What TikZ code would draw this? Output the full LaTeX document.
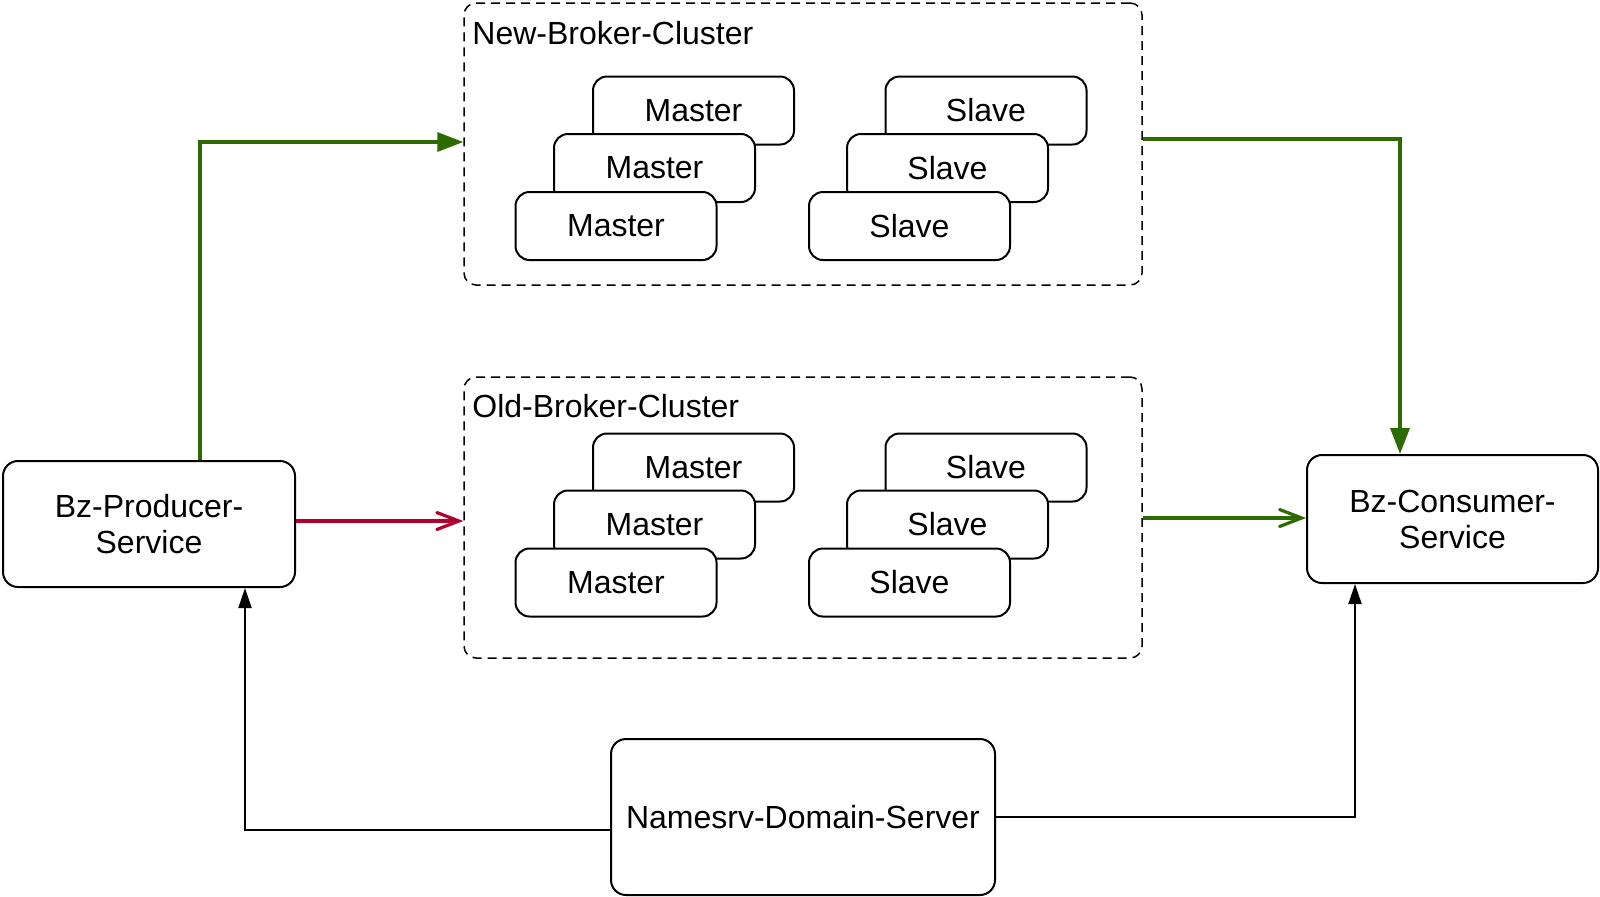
\documentclass[tikz,border=0pt]{standalone}
\usepackage{fontspec}
\setmainfont{Liberation Sans}
\usetikzlibrary{arrows.meta}
\definecolor{dgreen}{HTML}{2D6A00}
\definecolor{dred}{HTML}{B2002E}
\begin{document}
\begin{tikzpicture}[x=0.5pt,y=-0.5pt,
  lbl/.style={font=\fontsize{16}{18}\selectfont},
  box/.style={draw=black, line width=1pt, rounded corners=7.5pt, fill=white, lbl, align=center, inner sep=0pt},
  bbox/.style={box, minimum width=100.5pt, minimum height=34pt, rounded corners=7pt},
  cluster/.style={draw=black, line width=0.75pt, dash pattern=on 4.5pt off 3pt, rounded corners=6pt, minimum width=339pt, inner sep=0pt},
  ctitle/.style={anchor=base west, lbl, inner sep=0pt},
  garrow/.style={draw=dgreen, line width=1.75pt, -{Triangle[length=13pt,width=9.5pt]}},
  gopen/.style={draw=dgreen, line width=1.6pt, -{Straight Barb[length=11pt,width=8.5pt,line cap=round]}},
  ropen/.style={draw=dred, line width=1.6pt, -{Straight Barb[length=11pt,width=8.5pt,line cap=round]}},
  barrow/.style={draw=black, line width=1pt, -{Triangle[length=10pt,width=6.5pt]}}
]
\useasboundingbox[fill=white] (0,0) rectangle (1600,896);

% clusters
\node[cluster, minimum height=141pt] (newc) at (803,144) {};
\node[ctitle] (newt) at (472,44) {New-Broker-Cluster};
\node[cluster, minimum height=140.5pt] (oldc) at (803,517.5) {};
\node[ctitle] (oldt) at (472,417) {Old-Broker-Cluster};

% new cluster brokers
\node[bbox] (nm1) at (693.5,110.5) {Master};
\node[bbox] (nm2) at (654.5,168) {Master};
\node[bbox] (nm3) at (616,226) {Master};
\node[bbox] (ns1) at (986,110.5) {Slave};
\node[bbox] (ns2) at (947.5,168) {Slave};
\node[bbox] (ns3) at (909.5,226) {Slave};

% old cluster brokers
\node[bbox] (om1) at (693.5,467.5) {Master};
\node[bbox] (om2) at (654.5,524.5) {Master};
\node[bbox] (om3) at (616,582.5) {Master};
\node[bbox] (os1) at (986,467.5) {Slave};
\node[bbox] (os2) at (947.5,524.5) {Slave};
\node[bbox] (os3) at (909.5,582.5) {Slave};

% services
\node[box, minimum width=146pt, minimum height=63pt] (prod) at (149,524) {Bz-Producer-\\Service};
\node[box, minimum width=145.5pt, minimum height=64pt] (cons) at (1452.5,519) {Bz-Consumer-\\Service};
\node[box, minimum width=192pt, minimum height=78pt] (nsrv) at (803,817) {Namesrv-Domain-Server};

% helper coordinates
\coordinate (gx) at (200,142);
\coordinate (gy) at (1400,139);
\coordinate (ry) at (0,521);
\coordinate (gy2) at (0,518);
\coordinate (lx) at (245,830);
\coordinate (rx) at (1355,817);

% connectors
\draw[garrow] (prod.north -| gx) |- (newc.west |- gx);
\draw[garrow] (newc.east |- gy) -| (cons.north -| gy);
\draw[ropen] (prod.east |- ry) -- (oldc.west |- ry);
\draw[gopen] (oldc.east |- gy2) -- (cons.west |- gy2);
\draw[barrow] (nsrv.west |- lx) -| (prod.south -| lx);
\draw[barrow] (nsrv.east |- rx) -| (cons.south -| rx);
\end{tikzpicture}
\end{document}
